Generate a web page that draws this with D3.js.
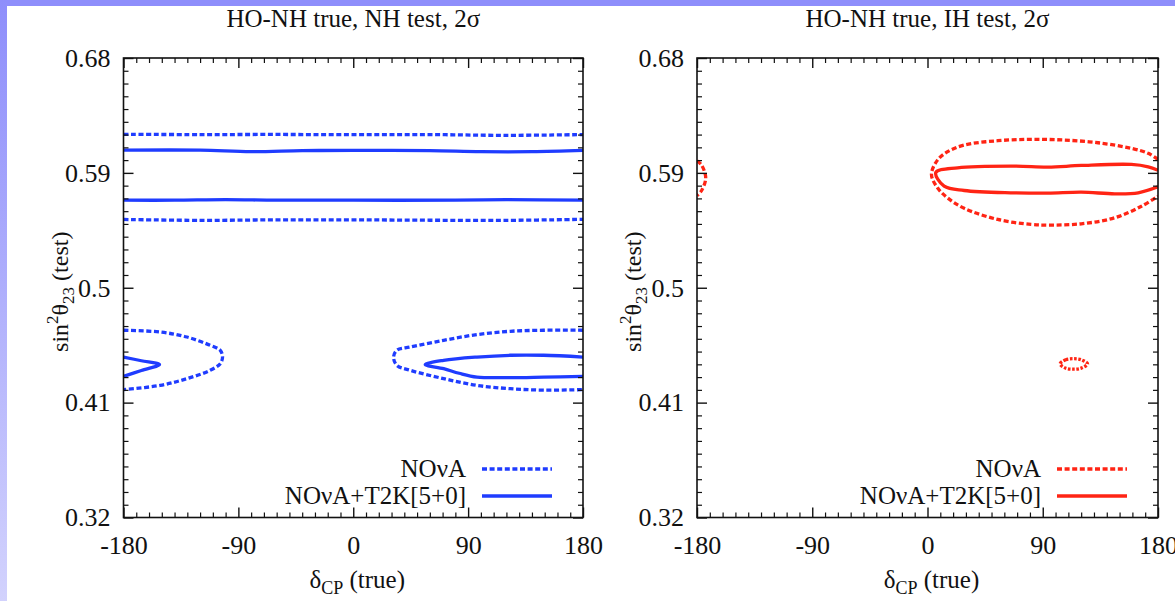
<!DOCTYPE html>
<html>
<head>
<meta charset="utf-8">
<script src="https://cdn.jsdelivr.net/npm/d3@7"></script>
<style>
  html, body { margin: 0; padding: 0; background: #ffffff; }
  svg { display: block; }
  text { font-family: "Liberation Serif", "Times New Roman", serif; fill: #111; }
</style>
</head>
<body>
<svg id="chart" width="1175" height="601"></svg>
<script>
// ---- axis definitions ----
const deltaTicks = [-180, -90, 0, 90, 180];
const s23Ticks = [0.32, 0.41, 0.5, 0.59, 0.68];
const deltaDomain = [-180, 180];
const s23Domain = [0.32, 0.68];

const panelTitles = ["HO-NH true, NH test, 2\u03C3", "HO-NH true, IH test, 2\u03C3"];
const legendLabels = ["NO\u03BDA", "NO\u03BDA+T2K[5+0]"];

// ---- NH test contours: [deltaCP, sin^2 theta23] ----
// NOvA alone (2 sigma)
const nhNovaUpperEdge = [[-180, 0.6202], [-120, 0.6200], [-60, 0.6201], [0, 0.6199], [60, 0.6200], [120, 0.6194], [180, 0.6200]];
const nhNovaLowerEdge = [[-180, 0.5535], [-120, 0.5528], [-60, 0.5532], [0, 0.5532], [60, 0.5529], [120, 0.5528], [180, 0.5536]];
const nhNovaLobeLeft = [[-180, 0.4667], [-151.2, 0.4653], [-130.3, 0.4614], [-112.1, 0.4549], [-104.2, 0.4510], [-102.4, 0.4457],
  [-104.2, 0.4405], [-112.1, 0.4353], [-130.3, 0.4288], [-151.2, 0.4235], [-180, 0.4202]];
const nhNovaLobeRight = [[180, 0.4667], [149.1, 0.4667], [123.0, 0.4659], [96.9, 0.4633], [70.8, 0.4588], [44.7, 0.4536], [34.2, 0.4510],
  [31.6, 0.4457], [34.2, 0.4392], [44.7, 0.4353], [70.8, 0.4288], [96.9, 0.4235], [123.0, 0.4209], [149.1, 0.4198], [180, 0.4202]];
// NOvA + T2K[5+0] (2 sigma)
const nhComboUpperEdge = [[-180, 0.6078], [-120, 0.6078], [-80, 0.6066], [-40, 0.6074], [0, 0.6076], [60, 0.6074], [100, 0.6066], [140, 0.6066], [180, 0.6076]];
const nhComboLowerEdge = [[-180, 0.5686], [-140, 0.5686], [-100, 0.5690], [-60, 0.5686], [0, 0.5686], [80, 0.5686], [120, 0.5690], [180, 0.5686]];
const nhComboLobeLeft = [[-180, 0.4457], [-166, 0.4428], [-151.8, 0.4398], [-166, 0.4352], [-180, 0.4306]];
const nhComboLobeRight = [[180, 0.4457], [149.1, 0.4471], [123.0, 0.4471], [96.9, 0.4457], [70.8, 0.4431], [56.4, 0.4398],
  [70.8, 0.4366], [83.0, 0.4330], [96.9, 0.4300], [123.0, 0.4296], [149.1, 0.4300], [180, 0.4306]];

// ---- IH test contours ----
const ihNovaMain = [[180, 0.6006], [172.4, 0.6053], [159.3, 0.6092], [133.2, 0.6136], [107.0, 0.6157], [80.9, 0.6163], [54.9, 0.6152],
  [28.7, 0.6118], [15.7, 0.6066], [7.8, 0.6000], [3.1, 0.5888], [7.8, 0.5783], [15.7, 0.5704], [28.7, 0.5622], [54.9, 0.5535],
  [80.9, 0.5496], [94.0, 0.5491], [120.1, 0.5501], [146.2, 0.5548], [167.1, 0.5639], [180, 0.5717]];
const ihNovaWrap = [[-180, 0.5995], [-176.5, 0.5962], [-173.2, 0.5861], [-176.5, 0.5760], [-180, 0.5722]];
const ihNovaIsland = [[103.5, 0.4403], [108, 0.4436], [114, 0.4444], [120, 0.4436], [125, 0.4403], [120, 0.4370], [114, 0.4362], [108, 0.4370]];
const ihComboMain = [[180, 0.5920], [172.4, 0.5947], [159.3, 0.5966], [120.1, 0.5958], [94.0, 0.5945], [67.9, 0.5953], [23.5, 0.5940],
  [6.5, 0.5903], [13.0, 0.5796], [28.7, 0.5762], [67.9, 0.5744], [94.0, 0.5741], [120.1, 0.5749], [146.2, 0.5736], [164.6, 0.5744], [180, 0.5791]];

// ---- styling ----
const blue = "#1f3cff";
const red = "#ff2414";
const dotted = "5,2.6";

const panels = [
  {
    x0: 123.5, x1: 583, y0: 58, y1: 517.5, color: blue, title: panelTitles[0],
    curves: [
      { pts: nhNovaUpperEdge, dash: true }, { pts: nhNovaLowerEdge, dash: true },
      { pts: nhNovaLobeLeft, dash: true }, { pts: nhNovaLobeRight, dash: true },
      { pts: nhComboUpperEdge, dash: false }, { pts: nhComboLowerEdge, dash: false },
      { pts: nhComboLobeLeft, dash: false }, { pts: nhComboLobeRight, dash: false }
    ]
  },
  {
    x0: 697, x1: 1158, y0: 58, y1: 517.5, color: red, title: panelTitles[1],
    curves: [
      { pts: ihNovaMain, dash: true }, { pts: ihNovaWrap, dash: true },
      { pts: ihNovaIsland, dash: true, closed: true },
      { pts: ihComboMain, dash: false }
    ]
  }
];

const svg = d3.select("#chart");

// slide frame: top bar and fading left strip
const defs = svg.append("defs");
const grad = defs.append("linearGradient").attr("id", "strip").attr("x1", 0).attr("y1", 0).attr("x2", 0).attr("y2", 1);
grad.append("stop").attr("offset", "0%").attr("stop-color", "#8e8efb");
grad.append("stop").attr("offset", "100%").attr("stop-color", "#d2d2fd");
svg.append("rect").attr("x", 0).attr("y", 0).attr("width", 1175).attr("height", 6).attr("fill", "#8e8efb");
svg.append("rect").attr("x", 0).attr("y", 0).attr("width", 7).attr("height", 601).attr("fill", "url(#strip)");

const fmtY = d => (d === 0.5 ? "0.5" : d.toFixed(2));
const fmtX = d => String(d); // plain hyphen-minus, as gnuplot prints it

panels.forEach((p, i) => {
  const x = d3.scaleLinear().domain(deltaDomain).range([p.x0, p.x1]);
  const y = d3.scaleLinear().domain(s23Domain).range([p.y1, p.y0]);
  const g = svg.append("g");

  defs.append("clipPath").attr("id", "clip" + i)
    .append("rect").attr("x", p.x0).attr("y", p.y0).attr("width", p.x1 - p.x0).attr("height", p.y1 - p.y0);

  // contours
  const line = d3.line().x(d => x(d[0])).y(d => y(d[1])).curve(d3.curveCatmullRom.alpha(0.5));
  const closedLine = d3.line().x(d => x(d[0])).y(d => y(d[1])).curve(d3.curveCatmullRomClosed.alpha(0.5));
  const cg = g.append("g").attr("clip-path", `url(#clip${i})`);
  p.curves.forEach(c => {
    cg.append("path")
      .attr("d", (c.closed ? closedLine : line)(c.pts))
      .attr("fill", "none")
      .attr("stroke", p.color)
      .attr("stroke-width", 3.3)
      .attr("stroke-linejoin", "round")
      .attr("stroke-dasharray", c.dash ? (c.closed ? "2.6,1.6" : dotted) : null);
  });

  // axes with inward ticks on all four sides
  const minorX = d3.range(-170, 180, 10).filter(v => !deltaTicks.includes(v));
  const minorY = d3.range(0.33, 0.675, 0.01).map(v => +v.toFixed(2)).filter(v => !s23Ticks.some(t => Math.abs(t - v) < 1e-6));

  const axes = [
    { gen: d3.axisBottom, scale: x, major: deltaTicks, minor: minorX, tr: `translate(0,${p.y1})`, labels: true, pad: 18 },
    { gen: d3.axisTop, scale: x, major: deltaTicks, minor: minorX, tr: `translate(0,${p.y0})`, labels: false },
    { gen: d3.axisLeft, scale: y, major: s23Ticks, minor: minorY, tr: `translate(${p.x0},0)`, labels: true, pad: 13 },
    { gen: d3.axisRight, scale: y, major: s23Ticks, minor: minorY, tr: `translate(${p.x1},0)`, labels: false }
  ];
  axes.forEach(a => {
    const isY = a.scale === y;
    const ga = g.append("g").attr("transform", a.tr)
      .call(a.gen(a.scale).tickValues(a.major).tickSize(-10).tickPadding(a.pad || 0)
        .tickFormat(a.labels ? (isY ? fmtY : fmtX) : () => ""));
    ga.select(".domain").remove();
    ga.selectAll("line").attr("stroke", "#111").attr("stroke-width", 1.4);
    ga.selectAll("text").style("font-size", "26px").attr("fill", "#111");
    const gm = g.append("g").attr("transform", a.tr)
      .call(a.gen(a.scale).tickValues(a.minor).tickSize(-5).tickFormat(() => ""));
    gm.select(".domain").remove();
    gm.selectAll("line").attr("stroke", "#111").attr("stroke-width", 1.2);
  });

  // frame
  g.append("rect").attr("x", p.x0).attr("y", p.y0).attr("width", p.x1 - p.x0).attr("height", p.y1 - p.y0)
    .attr("fill", "none").attr("stroke", "#111").attr("stroke-width", 1.6);

  const cx = (p.x0 + p.x1) / 2;

  // title
  g.append("text").attr("x", cx).attr("y", 27).attr("text-anchor", "middle")
    .style("font-size", "25px").text(p.title);

  // x axis label: delta_CP (true)
  const xl = g.append("text").attr("x", cx + 4).attr("y", 588).attr("text-anchor", "middle").style("font-size", "25px");
  xl.append("tspan").text("\u03B4");
  xl.append("tspan").attr("dy", 6).style("font-size", "18px").text("CP");
  xl.append("tspan").attr("dy", -6).text(" (true)");

  // y axis label: sin^2 theta_23 (test)
  const yl = g.append("text")
    .attr("transform", `translate(${p.x0 - 56},${(p.y0 + p.y1) / 2 + 4}) rotate(-90)`)
    .attr("text-anchor", "middle").style("font-size", "24px");
  yl.append("tspan").text("sin");
  yl.append("tspan").attr("dy", -10).style("font-size", "17px").text("2");
  yl.append("tspan").attr("dy", 10).text("\u03B8");
  yl.append("tspan").attr("dy", 6).style("font-size", "17px").text("23");
  yl.append("tspan").attr("dy", -6).text(" (test)");

  // legend
  const lx1 = p.x1 - 31, lx0 = p.x1 - 101, tx = p.x1 - 117;
  const rows = [{ label: legendLabels[0], dash: true, yc: 469 }, { label: legendLabels[1], dash: false, yc: 496 }];
  rows.forEach(r => {
    g.append("text").attr("x", tx).attr("y", r.yc + 8).attr("text-anchor", "end")
      .style("font-size", "25px").text(r.label);
    g.append("line").attr("x1", lx0).attr("x2", lx1).attr("y1", r.yc).attr("y2", r.yc)
      .attr("stroke", p.color).attr("stroke-width", 3.3)
      .attr("stroke-dasharray", r.dash ? dotted : null);
  });
});
</script>
</body>
</html>
